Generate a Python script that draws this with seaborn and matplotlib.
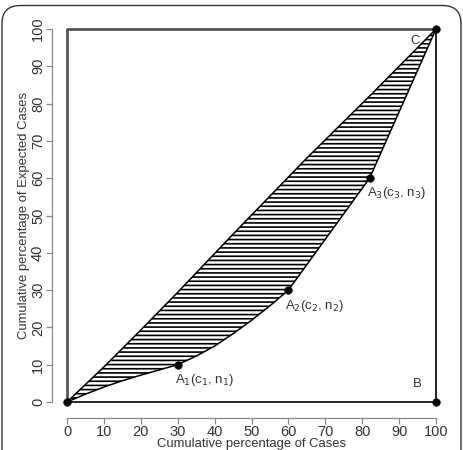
import matplotlib
matplotlib.use("Agg")
import matplotlib.pyplot as plt
import seaborn as sns
import pandas as pd
from matplotlib.patches import FancyBboxPatch

# ---- data ----
upper_x = [0, 10, 20, 30, 45, 65, 83, 100]
upper_y = [0, 9.4, 19.3, 29.4, 45.0, 65.4, 83, 100]
lower_x = [0, 5, 10, 15, 20, 25, 30, 35, 40, 45, 50, 55, 60, 82, 100]
lower_y = [0, 2.1, 4.0, 5.7, 7.2, 8.6, 10, 12.3, 15.0, 18.3, 21.9, 25.8, 30, 60, 100]
point_x = [0, 30, 60, 82, 100, 100]
point_y = [0, 10, 30, 60, 100, 0]
labels = ["A$_1$(c$_1$, n$_1$)", "A$_2$(c$_2$, n$_2$)", "A$_3$(c$_3$, n$_3$)", "C", "B"]
label_x = [29.3, 59, 81.3, 93, 93.8]
label_y = [5.8, 25.7, 56, 96.8, 4.8]
ticks = list(range(0, 101, 10))

sns.set_style("ticks")
plt.rcParams["font.family"] = ["Liberation Sans", "DejaVu Sans"]
plt.rcParams["hatch.linewidth"] = 1.2

W, H = 463, 450
fig = plt.figure(figsize=(W / 100, H / 100), dpi=100)
ax = fig.add_axes([67 / W, (H - 402) / H, (436 - 67) / W, (402 - 29) / H])
ax.set_xlim(0, 100)
ax.set_ylim(0, 100)

# hatched region
poly_x = upper_x + lower_x[::-1]
poly_y = upper_y + lower_y[::-1]
ax.fill(poly_x, poly_y, facecolor="none", edgecolor="black", hatch="----", linewidth=0)

up = pd.DataFrame({"x": upper_x, "y": upper_y})
lo = pd.DataFrame({"x": lower_x, "y": lower_y})
sns.lineplot(data=up, x="x", y="y", sort=False, color="black", lw=1.1, ax=ax)
sns.lineplot(data=lo, x="x", y="y", sort=False, color="black", lw=1.1, ax=ax)

# box
ax.plot([0, 0, 100], [0, 100, 100], color="#555555", lw=2, clip_on=False, solid_capstyle="butt")
ax.plot([0, 100, 100], [0, 0, 100], color="black", lw=1.2, clip_on=False)

pts = pd.DataFrame({"x": point_x, "y": point_y})
sns.scatterplot(data=pts, x="x", y="y", color="black", s=30, edgecolor="black", ax=ax, clip_on=False, zorder=5)

for t, x, y in zip(labels, label_x, label_y):
    ax.text(x, y, t, ha="left", va="center", fontsize=9.5, color="#333333")

# R-style detached axes
for s in ["top", "right"]:
    ax.spines[s].set_visible(False)
ax.spines["left"].set_position(("outward", 15 * 0.72))
ax.spines["bottom"].set_position(("outward", 16 * 0.72))
for s in ["left", "bottom"]:
    ax.spines[s].set_color("#888888")
    ax.spines[s].set_linewidth(0.9)
    ax.spines[s].set_bounds(0, 100)

ax.set_xticks(ticks)
ax.set_yticks(ticks)
ax.set_xticklabels([str(t) for t in ticks], fontsize=10.5)
ax.set_yticklabels([str(t) for t in ticks], fontsize=10.5, rotation=90, va="center")
ax.tick_params(colors="#888888", labelcolor="#333333", length=4, width=0.9)
ax.tick_params(axis="x", pad=1)
ax.tick_params(axis="y", pad=1)
ax.set_xlabel("Cumulative percentage of Cases", fontsize=9.4, color="#333333", labelpad=-1)
ax.set_ylabel("Cumulative percentage of Expected Cases", fontsize=9.4, color="#333333", labelpad=1)

# outer rounded frame
frame = FancyBboxPatch((2 / W, -0.1), (459 / W), 1.1 - 5.5 / H,
                       boxstyle="round,pad=0,rounding_size=0.04",
                       transform=fig.transFigure, facecolor="none",
                       edgecolor="#333333", lw=1.0, clip_on=False)
fig.patches.append(frame)

fig.savefig("out.png", dpi=100)
